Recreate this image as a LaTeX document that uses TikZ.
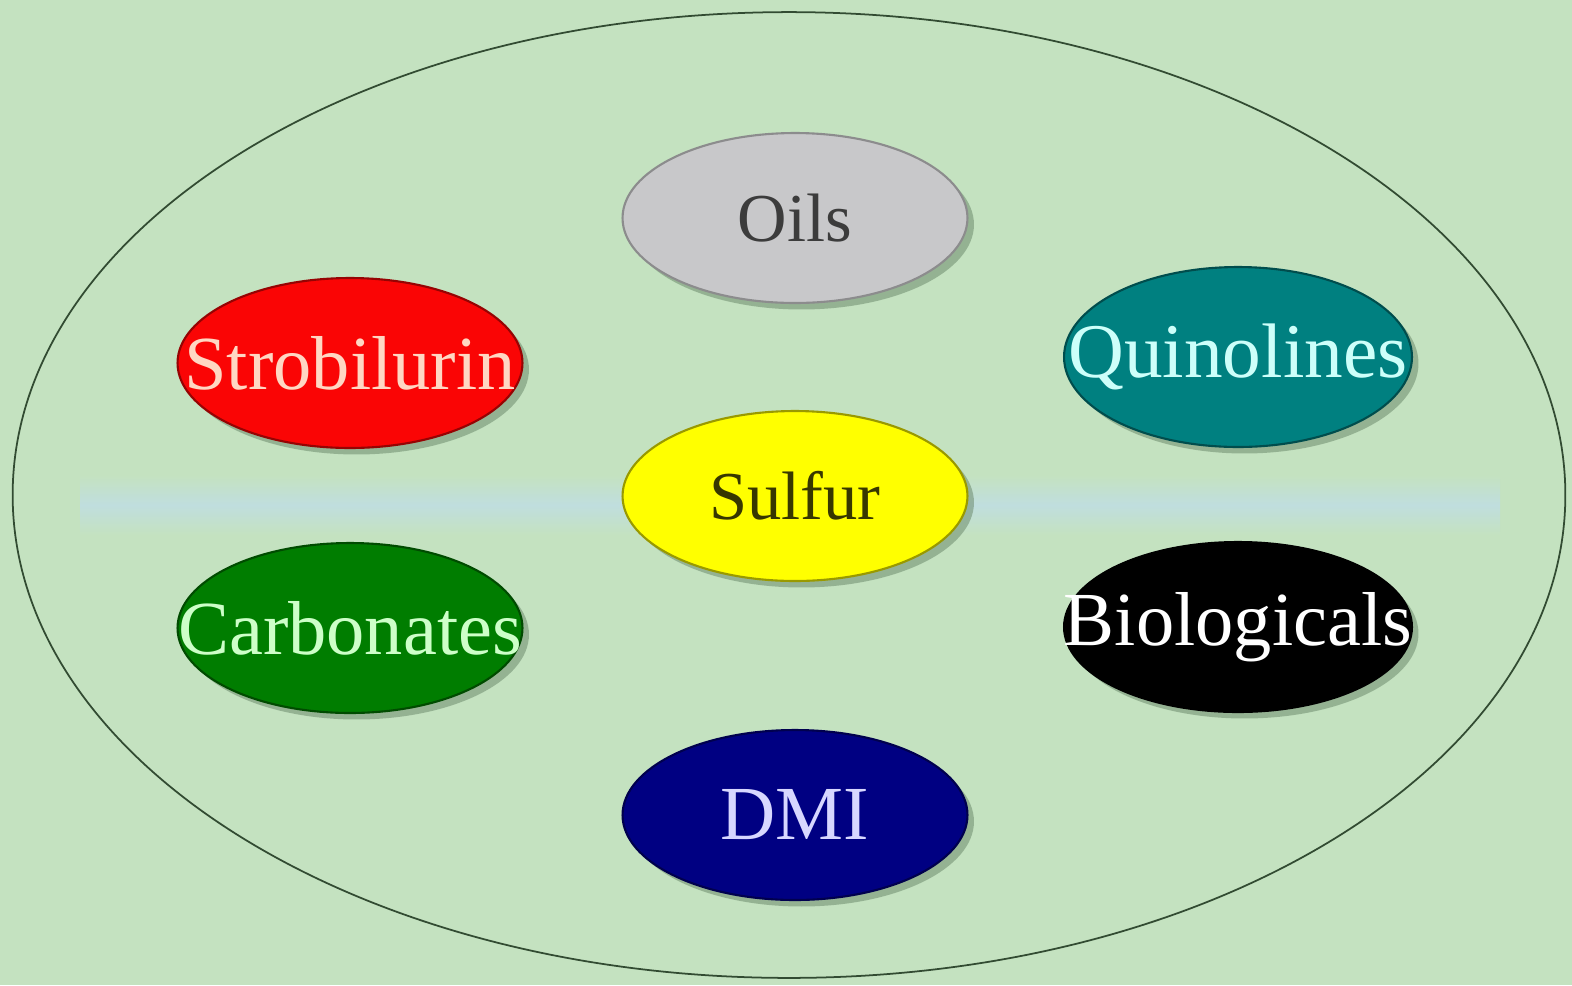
\documentclass[tikz,border=0pt]{standalone}
\usepackage{fontspec}
\setmainfont{Liberation Serif}
\usetikzlibrary{shapes.geometric,shadows}
\definecolor{bgc}{RGB}{196,226,192}
\definecolor{bandc}{RGB}{192,222,222}
\definecolor{framec}{RGB}{50,75,50}
\definecolor{shadc}{RGB}{110,140,110}
\definecolor{oilf}{RGB}{200,200,202}
\definecolor{oilt}{RGB}{60,60,60}
\definecolor{strf}{RGB}{250,5,5}
\definecolor{strt}{RGB}{255,215,195}
\definecolor{quif}{RGB}{0,128,128}
\definecolor{quit}{RGB}{205,255,250}
\definecolor{sulf}{RGB}{255,255,0}
\definecolor{sult}{RGB}{55,55,0}
\definecolor{carf}{RGB}{0,125,0}
\definecolor{cart}{RGB}{205,255,200}
\definecolor{biof}{RGB}{0,0,0}
\definecolor{biot}{RGB}{255,255,255}
\definecolor{dmif}{RGB}{0,0,130}
\definecolor{dmit}{RGB}{215,215,255}
\newcommand{\zw}[1]{\makebox[0pt]{#1}}
\tikzset{
  blob/.style={ellipse, inner sep=0pt, minimum width=6.9cm, minimum height=3.4cm,
    line width=1.2pt, font=\fontsize{43.5}{43.5}\selectfont,
    drop shadow={shadow xshift=0.13cm, shadow yshift=-0.13cm, opacity=0.55, fill=shadc}},
  small/.style={font=\fontsize{39}{39}\selectfont}
}
\begin{document}
\begin{tikzpicture}[x=0.02cm,y=-0.02cm]
\useasboundingbox (0,0) rectangle (1572,985);
\fill[bgc] (0,0) rectangle (1572,985);
\shade[top color=bgc, bottom color=bgc, middle color=bandc] (80,475) rectangle (1500,535);
\node[ellipse, draw=framec, line width=1pt, minimum width=31.06cm, minimum height=19.32cm, inner sep=0pt] (frame) at (789,495) {};
\node[blob, small, fill=oilf, draw=oilf!70!black, text=oilt] (oils) at (795,218) {\zw{Oils}};
\node[blob, fill=strf, draw=strf!60!black, text=strt] (strob) at (350,363) {\zw{Strobilurin}};
\node[blob, minimum width=6.96cm, minimum height=3.6cm, fill=quif, draw=quif!60!black, text=quit, font=\fontsize{44}{44}\selectfont] (quin) at (1238,357) {\zw{Quinolines}};
\node[blob, small, fill=sulf, draw=sulf!60!black, text=sult] (sulfur) at (795,496) {\zw{Sulfur}};
\node[blob, fill=carf, draw=carf!60!black, text=cart] (carb) at (350,628) {\zw{Carbonates}};
\node[blob, minimum width=6.96cm, fill=biof, draw=biof, text=biot] (bio) at (1238,627) {\zw{Biologicals}};
\node[blob, fill=dmif, draw=dmif!60!black, text=dmit] (dmi) at (795,815) {\zw{DMI}};
\end{tikzpicture}
\end{document}
